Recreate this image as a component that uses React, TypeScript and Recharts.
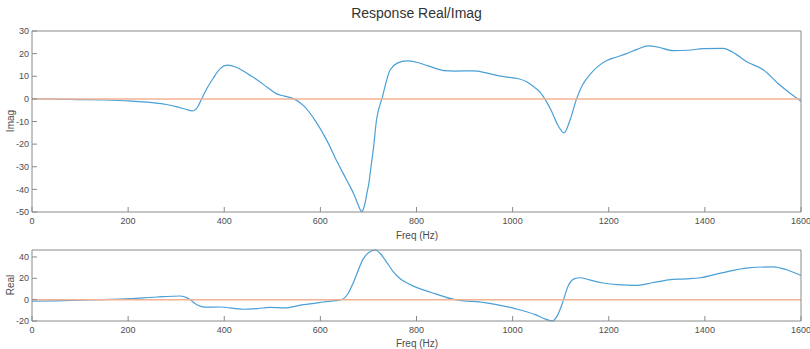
import React from "react";
import { Line, LineChart, XAxis, YAxis } from "recharts";

// frequency ticks shared by both panels
const freqTicks = [0, 200, 400, 600, 800, 1000, 1200, 1400, 1600];
const imagTicks = [-50, -40, -30, -20, -10, 0, 10, 20, 30];
const realTicks = [-20, 0, 20, 40];

// imaginary part
const imagFreq = [
  0, 50, 100, 150, 200, 250, 280, 300, 320, 334, 345, 353, 365, 377, 392, 406,
  425, 453, 468, 490, 509, 525, 545, 565, 592, 615, 634, 655, 670, 678, 683,
  686, 689, 693, 697, 701, 705, 710, 717, 728, 745, 760, 780, 800, 814, 835,
  856, 880, 918, 945, 967, 990, 1010, 1030, 1045, 1057, 1067, 1080, 1095, 1107,
  1120, 1133, 1145, 1161, 1180, 1196, 1215, 1237, 1260, 1282, 1300, 1334, 1365,
  1397, 1438, 1455, 1487, 1522, 1556, 1580, 1600,
];
const imagValues = [
  0, -0.1, -0.3, -0.5, -0.9, -1.7, -2.5, -3.4, -4.6, -5.3, -3.5, 0, 5, 9.1,
  13.5, 14.9, 14, 10.5, 8.5, 5, 2.2, 1.2, 0, -3, -10.5, -19, -27.5, -36, -42.3,
  -46.5, -49, -49.8, -49, -46, -41.5, -37.2, -30.5, -22.6, -9, 0, 12.8, 15.8,
  16.8, 16.2, 15.3, 13.8, 12.5, 12.3, 12.4, 11.5, 10.4, 9.6, 9, 7.5, 5.2, 3, 0,
  -5, -12, -15, -9, 0, 6, 10.8, 14.8, 17, 18.4, 20, 22, 23.4, 23, 21.3, 21.5,
  22.2, 22.3, 21, 16.4, 12.8, 6.1, 2, -1,
];

const realFreq = [
  0, 50, 100, 148, 204, 260, 308, 325, 343, 360, 391, 440, 470, 495, 523, 565,
  606, 644, 658, 669, 689, 700, 714, 725, 738, 752, 766, 785, 804, 838, 880,
  942, 1005, 1047, 1070, 1083, 1093, 1102, 1116, 1128, 1140, 1160, 1185, 1220,
  1255, 1290, 1324, 1360, 1390, 1435, 1490, 1542, 1570, 1600,
];
const realValues = [
  -1.5, -1.1, -0.5, 0, 0.9, 2.5, 3.4, 1.2, -4.7, -7, -6.9, -9, -8.3, -7.2, -7.8,
  -4.7, -2.2, 0, 6, 16.4, 38, 44, 46.5, 43, 35, 26, 19.5, 14.5, 10.8, 5.6, 0,
  -2.8, -8.4, -14, -18.5, -20, -15, -5.3, 13.3, 19.5, 20.5, 18.5, 15.8, 14,
  13.3, 15.8, 18.6, 19.5, 20.5, 25.1, 29.8, 30.7, 28, 22.6,
];

const zeroFreq = [0, 1600];
const zeroValues = [0, 0];

const toRows = (freq: number[], vals: number[]) =>
  freq.map((f, i) => ({ freq: f, value: vals[i] }));

const FONT = "'Liberation Sans', Arial, sans-serif";
const AXIS = "#8a8a8a";
const TEXT = "#4d4d4d";
const BLUE = "#4a9fd6";
const ORANGE = "#f3b194";

type PanelProps = {
  rows: { freq: number; value: number }[];
  yTicks: number[];
  yDomain: [number, number];
  height: number;
  top: number;
  margin: { top: number; right: number; bottom: number; left: number };
};

function Panel({ rows, yTicks, yDomain, height, top, margin }: PanelProps) {
  const tickStyle = { fill: TEXT, fontSize: 9, fontFamily: FONT };
  return (
    <div style={{ position: "absolute", left: 0, top }}>
      <LineChart width={810} height={height} margin={margin}>
        <XAxis
          type="number"
          dataKey="freq"
          domain={[0, 1600]}
          ticks={freqTicks}
          interval={0}
          stroke={AXIS}
          tick={tickStyle}
          tickSize={-5}
          tickMargin={11}
          height={20}
        />
        <XAxis
          xAxisId="top"
          orientation="top"
          type="number"
          dataKey="freq"
          domain={[0, 1600]}
          ticks={freqTicks}
          interval={0}
          stroke={AXIS}
          tick={false}
          tickSize={-5}
          height={1}
        />
        <YAxis
          type="number"
          domain={yDomain}
          ticks={yTicks}
          interval={0}
          stroke={AXIS}
          tick={tickStyle}
          tickSize={-5}
          tickMargin={8}
          width={32}
        />
        <YAxis
          yAxisId="right"
          orientation="right"
          type="number"
          domain={yDomain}
          ticks={yTicks}
          interval={0}
          stroke={AXIS}
          tick={false}
          tickSize={-5}
          width={1}
        />
        <Line
          data={rows}
          dataKey="value"
          type="monotone"
          stroke={BLUE}
          strokeWidth={1.2}
          dot={false}
          isAnimationActive={false}
        />
        <Line
          data={toRows(zeroFreq, zeroValues)}
          dataKey="value"
          type="linear"
          stroke={ORANGE}
          strokeWidth={1.5}
          dot={false}
          isAnimationActive={false}
        />
      </LineChart>
    </div>
  );
}

export default function App() {
  return (
    <div
      style={{
        position: "absolute",
        left: 0,
        top: 0,
        width: 810,
        height: 349,
        background: "#fff",
        overflow: "hidden",
      }}
    >
      <Panel
        rows={toRows(imagFreq, imagValues)}
        yTicks={imagTicks}
        yDomain={[-50, 30]}
        height={245}
        top={0}
        margin={{ top: 30, right: 8, bottom: 13, left: 0 }}
      />
      <Panel
        rows={toRows(realFreq, realValues)}
        yTicks={realTicks}
        yDomain={[-20, 46.5]}
        height={104}
        top={245}
        margin={{ top: 4, right: 8, bottom: 8, left: 0 }}
      />
      <svg
        width={810}
        height={349}
        style={{ position: "absolute", left: 0, top: 0, pointerEvents: "none" }}
        fontFamily={FONT}
      >
        <text x={416.5} y={17.5} fontSize={14} textAnchor="middle" fill="#333">
          Response Real/Imag
        </text>
        <text x={417} y={238.5} fontSize={10} textAnchor="middle" fill={TEXT}>
          Freq (Hz)
        </text>
        <text x={417} y={346.5} fontSize={10} textAnchor="middle" fill={TEXT}>
          Freq (Hz)
        </text>
        <text
          x={13.5}
          y={121}
          fontSize={10}
          textAnchor="middle"
          fill={TEXT}
          transform="rotate(-90 13.5 121)"
        >
          Imag
        </text>
        <text
          x={13.5}
          y={285}
          fontSize={10}
          textAnchor="middle"
          fill={TEXT}
          transform="rotate(-90 13.5 285)"
        >
          Real
        </text>
      </svg>
    </div>
  );
}
